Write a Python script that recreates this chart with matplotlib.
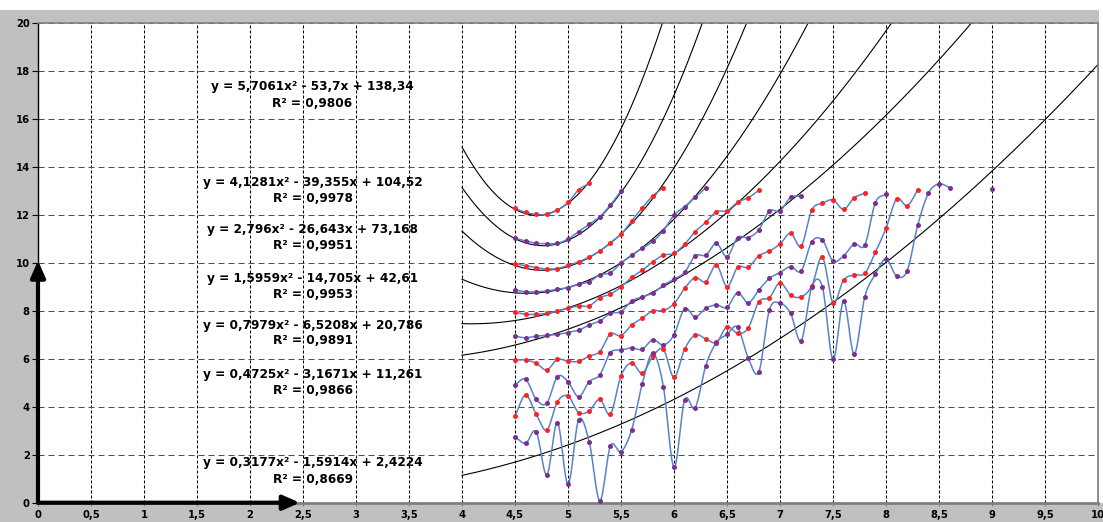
import numpy as np
import matplotlib.pyplot as plt
from matplotlib.patches import Rectangle
from matplotlib.ticker import FuncFormatter, MultipleLocator

# measurements start at x = 4.5 and are taken every 0.1
x_start = 4.5
x_step = 0.1

series_a = [12.28, 12.11, 12.03, 12.03, 12.21, 12.53, 13.05, 13.32]
series_b = [11.03, 10.92, 10.82, 10.81, 10.82, 11.0, 11.31, 11.61, 11.93, 12.42, 13.0]
series_c = [9.96, 9.89, 9.81, 9.75, 9.77, 9.9, 10.05, 10.25, 10.5, 10.85,
            11.2, 11.75, 12.3, 12.8, 13.14]
series_d = [8.87, 8.8, 8.8, 8.83, 8.91, 8.97, 9.11, 9.22, 9.5, 9.6,
            9.99, 10.33, 10.61, 10.9, 11.35, 12.0, 12.35, 12.74, 13.14]
series_e = [7.94, 7.86, 7.86, 7.9, 8.0, 8.11, 8.21, 8.21, 8.55, 8.7,
            9.0, 9.4, 9.69, 10.05, 10.33, 10.4, 10.78, 11.31, 11.7, 12.14,
            12.18, 12.53, 12.72, 13.03]
series_f = [6.95, 6.88, 6.95, 6.98, 7.02, 7.1, 7.2, 7.41, 7.58, 7.9,
            7.97, 8.41, 8.59, 8.74, 9.08, 9.32, 9.61, 10.3, 10.33, 10.82,
            10.26, 11.06, 11.06, 11.38, 12.17, 12.17, 12.74, 12.78]
series_g = [5.95, 5.95, 5.82, 5.54, 5.98, 5.9, 5.9, 6.12, 6.3, 7.04,
            6.97, 7.41, 7.7, 8.0, 8.02, 8.3, 8.94, 9.39, 9.22, 9.92,
            9.01, 9.82, 9.82, 10.3, 10.5, 10.79, 11.24, 10.71, 12.21, 12.49,
            12.63, 12.24, 12.72, 12.91]
series_h = [4.91, 5.15, 4.31, 4.15, 5.26, 5.05, 4.42, 5.05, 5.33, 6.26,
            6.37, 6.46, 6.4, 6.8, 6.58, 7.0, 8.1, 7.75, 8.11, 8.25,
            8.15, 8.76, 8.34, 8.87, 9.36, 9.6, 9.85, 9.67, 10.89, 10.96,
            10.08, 10.3, 10.79, 10.75, 12.52, 12.87]
series_i = [3.62, 4.49, 3.69, 3.03, 4.21, 4.45, 3.76, 3.83, 4.31, 3.7,
            5.29, 5.84, 5.4, 6.1, 6.4, 5.23, 6.4, 7.0, 6.83, 6.69,
            7.34, 7.07, 7.28, 8.39, 8.55, 9.18, 8.66, 8.59, 9.04, 10.24,
            8.34, 9.29, 9.5, 9.57, 10.45, 11.45, 12.67, 12.39, 13.05]
series_j = [2.75, 2.48, 2.96, 1.16, 3.34, 0.77, 3.45, 2.54, 0.08, 2.37,
            2.13, 3.03, 4.95, 6.23, 4.84, 1.48, 4.28, 3.96, 5.72, 6.68,
            7.02, 7.32, 6.04, 5.45, 8.04, 8.32, 7.9, 6.76, 9.0, 9.0,
            5.98, 8.41, 6.2, 8.59, 9.53, 10.17, 9.46, 9.68, 11.59, 12.91,
            13.3, 13.14, None, None, None, 13.09]

series_list = [series_a, series_b, series_c, series_d, series_e,
               series_f, series_g, series_h, series_i, series_j]

# quadratic trend lines: (a, b, c) for y = a*x^2 + b*x + c, with R^2
trend_coefs = [(5.7061, -53.7, 138.34),
               (4.1281, -39.355, 104.52),
               (2.796, -26.643, 73.168),
               (1.5959, -14.705, 42.61),
               (0.7979, -6.5208, 20.786),
               (0.4725, -3.1671, 11.261),
               (0.3177, -1.5914, 2.4224)]
trend_r2 = [0.9806, 0.9978, 0.9951, 0.9953, 0.9891, 0.9866, 0.8669]

# where each trend label sits (equation line, R^2 line)
label_x = 2.59
label_y = [(17.35, 16.65), (13.35, 12.7), (11.4, 10.75), (9.35, 8.68),
           (7.38, 6.75), (5.35, 4.67), (1.66, 0.95)]

RED = '#ff2222'
PURPLE = '#7b2f8e'
LINE = '#5684c8'
FONT = 'DejaVu Sans'


def smooth(xs, ys, n=14):
    # Catmull-Rom style smoothing through the points
    xs = np.asarray(xs, float)
    ys = np.asarray(ys, float)
    if len(xs) < 3:
        return xs, ys
    px = np.concatenate([[2 * xs[0] - xs[1]], xs, [2 * xs[-1] - xs[-2]]])
    py = np.concatenate([[2 * ys[0] - ys[1]], ys, [2 * ys[-1] - ys[-2]]])
    out_x, out_y = [], []
    t = np.linspace(0, 1, n, endpoint=False)
    for i in range(1, len(px) - 2):
        p0, p1, p2, p3 = (np.array([px[k], py[k]]) for k in range(i - 1, i + 3))
        c1 = p1 + (p2 - p0) / 6
        c2 = p2 - (p3 - p1) / 6
        pts = ((1 - t)[:, None] ** 3 * p1 + 3 * ((1 - t) ** 2 * t)[:, None] * c1
               + 3 * ((1 - t) * t ** 2)[:, None] * c2 + (t ** 3)[:, None] * p2)
        out_x.extend(pts[:, 0])
        out_y.extend(pts[:, 1])
    out_x.append(xs[-1])
    out_y.append(ys[-1])
    return np.array(out_x), np.array(out_y)


def num(v):
    return f"{v:.6g}".replace('.', ',')


fig = plt.figure(figsize=(11.03, 5.22), dpi=100, facecolor='#c0c0c0')
fig.patches.append(Rectangle((0, 1 - 10 / 522), 1, 10 / 522, transform=fig.transFigure,
                             facecolor='white', edgecolor='none', zorder=-5))
fig.patches.append(Rectangle((1099 / 1103, 19.3 / 522), 4 / 1103, 1, transform=fig.transFigure,
                             facecolor='white', edgecolor='none', zorder=-5))
ax = fig.add_axes([38 / 1103, 19.3 / 522, 1060 / 1103, 479.4 / 522])
ax.set_facecolor('white')

ax.set_xlim(0, 10)
ax.set_ylim(0, 20)
ax.xaxis.set_major_locator(MultipleLocator(0.5))
ax.yaxis.set_major_locator(MultipleLocator(2))
ax.xaxis.set_major_formatter(FuncFormatter(lambda v, p: num(round(v, 1))))
ax.yaxis.set_major_formatter(FuncFormatter(lambda v, p: num(round(v, 1))))

ax.set_axisbelow(True)
ax.xaxis.grid(True, color='black', linestyle=(0, (2.9, 1.9)), linewidth=0.75)
ax.yaxis.grid(True, color='#505050', linestyle=(0, (5.8, 3.8)), linewidth=0.75)

for lab in ax.get_xticklabels() + ax.get_yticklabels():
    lab.set_fontfamily(FONT)
    lab.set_fontweight('bold')
    lab.set_fontsize(7.2)
ax.tick_params(axis='y', direction='out', length=4, width=0.8, pad=2, colors='black')
ax.tick_params(axis='x', direction='out', length=2, width=0.8, pad=3, color='#808080',
               labelcolor='black')

ax.spines['left'].set_color('black')
ax.spines['left'].set_linewidth(1)
for side in ('top', 'right'):
    ax.spines[side].set_color('#808080')
    ax.spines[side].set_linewidth(1.2)
ax.spines['bottom'].set_color('#808080')
ax.spines['bottom'].set_linewidth(2)

# trend lines, extended back to x = 4
tx = np.linspace(4, 10, 600)
for a, b, c in trend_coefs:
    ax.plot(tx, a * tx ** 2 + b * tx + c, color='black', linewidth=0.8, zorder=2)

# measured series: smoothed blue line with alternating red / purple markers
for k, vals in enumerate(series_list):
    color = RED if k % 2 == 0 else PURPLE
    xs = x_start + x_step * np.arange(len(vals))
    ys = np.array([np.nan if v is None else v for v in vals], float)
    ok = ~np.isnan(ys)
    # split at gaps
    seg_start = None
    for idx in range(len(ys) + 1):
        inside = idx < len(ys) and ok[idx]
        if inside and seg_start is None:
            seg_start = idx
        elif not inside and seg_start is not None:
            sx, sy = smooth(xs[seg_start:idx], ys[seg_start:idx])
            if idx - seg_start > 1:
                ax.plot(sx, sy, color=LINE, linewidth=1.1, zorder=3)
            seg_start = None
    ax.plot(xs[ok], ys[ok], linestyle='none', marker='o', markersize=3.6,
            markeredgewidth=0, color=color, zorder=4)

# trend equations
for (a, b, c), r2, (ey, ry) in zip(trend_coefs, trend_r2, label_y):
    eq = f"y = {num(a)}x\u00b2 - {num(-b)}x + {num(c)}"
    ax.text(label_x, ey, eq, ha='center', va='center', fontsize=8.7,
            fontweight='bold', family=FONT, zorder=5)
    ax.text(label_x, ry, f"R\u00b2 = {num(r2)}", ha='center', va='center', fontsize=8.7,
            fontweight='bold', family=FONT, zorder=5)

# axis arrows
arrow = dict(arrowstyle='-|>,head_length=0.5,head_width=0.22', color='black',
             lw=3, mutation_scale=20, shrinkA=0, shrinkB=0)
ax.annotate('', xy=(0, 10.1), xytext=(0, 0), arrowprops=arrow, annotation_clip=False, zorder=6)
ax.annotate('', xy=(2.47, 0), xytext=(0, 0), arrowprops=arrow, annotation_clip=False, zorder=6)

fig.savefig('out.png', dpi=100, facecolor=fig.get_facecolor())
